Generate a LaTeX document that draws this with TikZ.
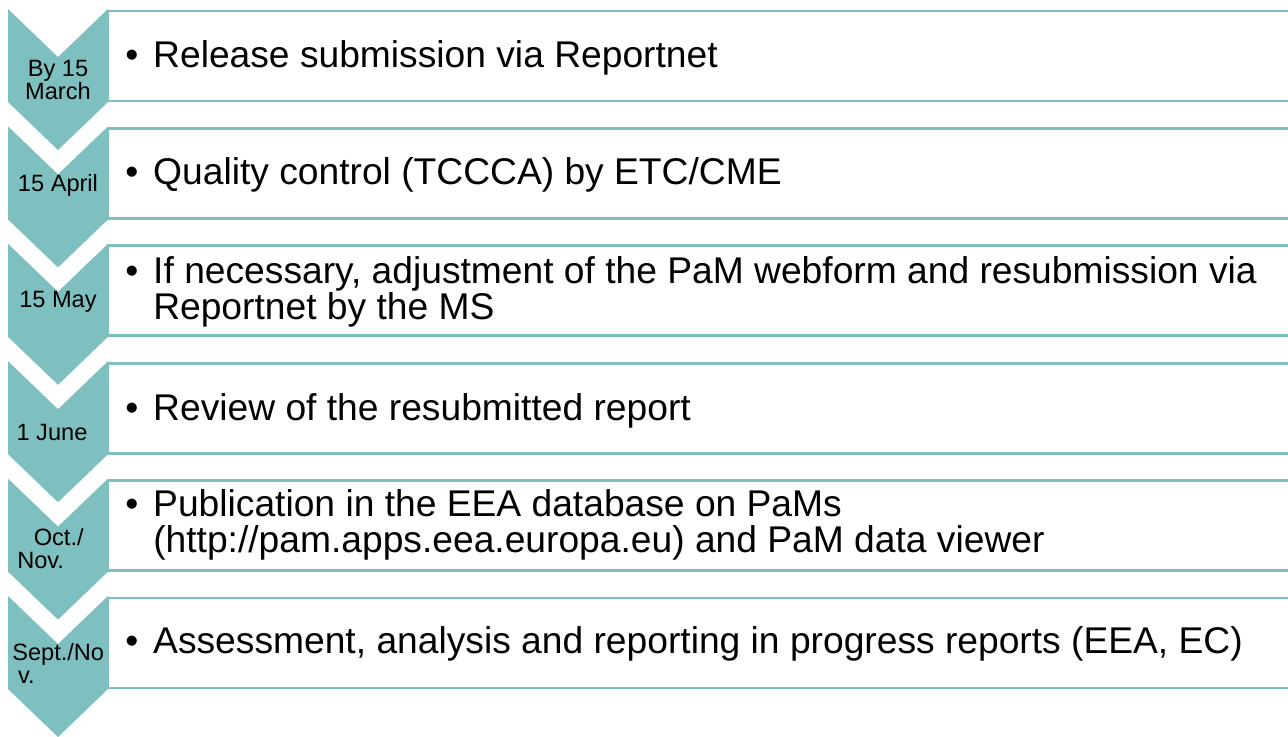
\documentclass[tikz,border=0pt]{standalone}
\usepackage{fontspec}
\setmainfont{Liberation Sans}
\definecolor{pamteal}{RGB}{126,192,192}
\newcommand{\pamitem}[1]{\llap{\textbullet\hspace{0.4em}}#1}
\tikzset{
	datelabel/.style={inner sep=0pt, font=\fontsize{17.7}{17.3}\selectfont},
	tasktext/.style={inner sep=0pt, anchor=west, align=left, font=\fontsize{27.9}{27}\selectfont}
}
\begin{document}
\begin{tikzpicture}[x=0.75pt, y=-0.75pt]
	\useasboundingbox (0, 0) rectangle (1288, 736);
	% chevrons and boxes
	\foreach \k in {0,...,5} {
		\pgfmathsetmacro{\t}{9+117.4*\k}
		\fill[pamteal] (8, \t)--(58, \t+48)--(108, \t)--(108, \t+93)--(58, \t+141)--(8, \t+93)--cycle;
		\draw[pamteal, line width=2.2pt] (108, \t+2) rectangle (1300, \t+92);
	}
	% dates
	\node[datelabel, align=center] (date0) at (58, 80) {By 15\\March};
	\node[datelabel] (date1) at (58, 185) {15 April};
	\node[datelabel] (date2) at (58, 302) {15 May};
	\node[datelabel] (date3) at (52, 432) {1 June};
	\node[datelabel, anchor=west, align=left] (date4) at (17, 549) {\hspace*{0.7em}Oct./\\Nov.};
	\node[datelabel, anchor=west, align=left] (date5) at (12, 663) {Sept./No\\\hspace*{0.25em}v.};
	% tasks
	\node[tasktext] (task0) at (153, 58) {\pamitem{Release submission via Reportnet}};
	\node[tasktext] (task1) at (153, 175) {\pamitem{Quality control (TCCCA) by ETC/CME}};
	\node[tasktext] (task2) at (153, 292) {\pamitem{If necessary, adjustment of the PaM webform and resubmission via}\\Reportnet by the MS};
	\node[tasktext] (task3) at (153, 411) {\pamitem{Review of the resubmitted report}};
	\node[tasktext] (task4) at (153, 525) {\pamitem{Publication in the EEA database on PaMs}\\(http://pam.apps.eea.europa.eu) and PaM data viewer};
	\node[tasktext] (task5) at (153, 644) {\pamitem{Assessment, analysis and reporting in progress reports (EEA, EC)}};
\end{tikzpicture}
\end{document}
